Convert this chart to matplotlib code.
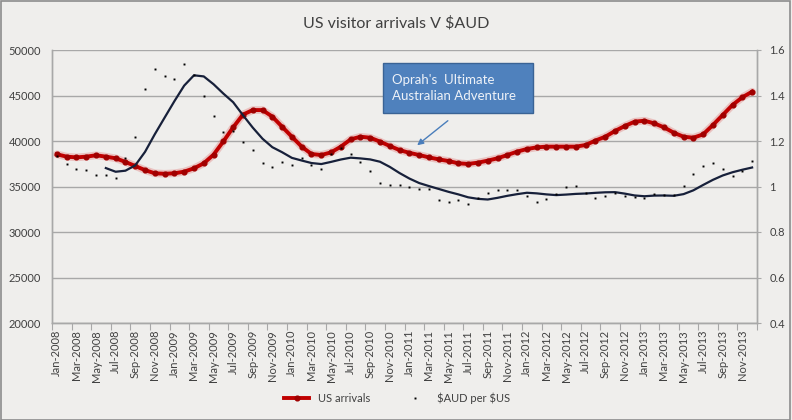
import matplotlib
matplotlib.use('Agg')
import matplotlib.pyplot as plt
import numpy as np
import pandas as pd
from matplotlib.patches import Rectangle, FancyArrowPatch
from matplotlib.ticker import FixedLocator, FuncFormatter

plt.rcParams['font.family'] = ['Lato', 'DejaVu Sans']

# ---------------- data ----------------
months = pd.date_range('2008-01-01', periods=72, freq='MS').strftime('%b-%Y').tolist()

us_arrivals = [
    38540, 38280, 38200, 38280, 38430, 38280, 38100, 37700, 37250, 36800, 36450, 36400,
    36450, 36630, 37000, 37550, 38500, 39950, 41500, 42900, 43400, 43400, 42680, 41570,
    40470, 39380, 38570, 38460, 38750, 39380, 40180, 40470, 40360, 39930, 39450, 39000,
    38700, 38460, 38200, 37980, 37800, 37550, 37480, 37620, 37840, 38100, 38460, 38830,
    39120, 39300, 39380, 39380, 39380, 39380, 39560, 40050, 40470, 41100, 41650, 42120,
    42230, 41940, 41500, 40910, 40470, 40360, 40730, 41760, 42860, 43960, 44800, 45420,
]

aud_per_usd = [
    1.136, 1.099, 1.078, 1.073, 1.050, 1.050, 1.039, 1.127, 1.218, 1.429, 1.516, 1.487,
    1.473, 1.538, 1.490, 1.399, 1.310, 1.241, 1.245, 1.197, 1.162, 1.105, 1.087, 1.108,
    1.096, 1.127, 1.096, 1.078, 1.144, 1.171, 1.144, 1.108, 1.069, 1.017, 1.008, 1.008,
    1.000, 0.989, 0.989, 0.941, 0.932, 0.941, 0.923, 0.948, 0.972, 0.985, 0.985, 0.985,
    0.960, 0.932, 0.945, 0.966, 0.999, 1.003, 0.970, 0.950, 0.959, 0.970, 0.960, 0.955,
    0.949, 0.967, 0.962, 0.962, 1.004, 1.055, 1.091, 1.102, 1.077, 1.047, 1.070, 1.114,
]

ma_window = 6  # moving-average trendline of the exchange rate

title = r'US visitor arrivals V \$AUD'
note = "Oprah's  Ultimate\nAustralian Adventure"
series_names = ['US arrivals', r'\$AUD per \$US']
left_ticks = [20000, 25000, 30000, 35000, 40000, 45000, 50000]
right_ticks = [0.4, 0.6, 0.8, 1.0, 1.2, 1.4, 1.6]

# ---------------- style ----------------
bg = '#EFEEEC'
grid_c = '#A8A8A8'
txt_c = '#404040'
red = '#C00000'
navy = '#17203A'

fig = plt.figure(figsize=(7.92, 4.20), dpi=100, facecolor=bg)
ax = fig.add_axes([52 / 792, 1 - 323 / 420, 705 / 792, 273 / 420])
ax.set_facecolor(bg)
ax2 = ax.twinx()

x = np.arange(len(months))

# primary: US arrivals
ax.plot(x, us_arrivals, color='#E07070', lw=5.5, alpha=0.35, solid_capstyle='round', zorder=2)
red_line, = ax.plot(x, us_arrivals, color=red, lw=2.8, marker='o', ms=3.4,
                    mfc='#A00000', mec='#A00000', zorder=3, label=series_names[0])

# secondary: exchange rate dots + moving average trendline
ma = pd.Series(aud_per_usd).rolling(ma_window).mean()
ax2.plot(x, ma, color=navy, lw=1.6, zorder=3)
dots, = ax2.plot(x, aud_per_usd, ls='none', marker='s', ms=1.4, color='black',
                 mew=0, zorder=4, label=series_names[1])

# axes ranges
ax.set_xlim(-0.5, len(months) - 0.5)
ax.set_ylim(20000, 50000)
ax2.set_ylim(0.4, 1.6)

# y ticks
ax.yaxis.set_major_locator(FixedLocator(left_ticks))
ax.yaxis.set_major_formatter(FuncFormatter(lambda v, p: f'{int(v)}'))
ax2.yaxis.set_major_locator(FixedLocator(right_ticks))
ax2.yaxis.set_major_formatter(FuncFormatter(lambda v, p: f'{v:g}'))
ax.tick_params(axis='y', length=0, labelsize=8, labelcolor=txt_c, pad=8)
ax2.tick_params(axis='y', length=3, color=grid_c, labelsize=8, labelcolor=txt_c, pad=6)

# x ticks: marks between categories every 2 months, labels on categories
ax.xaxis.set_major_locator(FixedLocator(np.arange(-0.5, len(months), 2)))
ax.xaxis.set_minor_locator(FixedLocator(x[::2]))
ax.set_xticklabels([], minor=False)
ax.set_xticklabels(months[::2], minor=True)
ax.tick_params(axis='x', which='major', length=5, color=grid_c, labelbottom=False)
ax.tick_params(axis='x', which='minor', length=0, labelsize=8, labelcolor=txt_c,
               labelrotation=90, pad=5)

ax.grid(axis='y', color=grid_c, lw=1)
ax.set_axisbelow(True)
for a in (ax, ax2):
    a.spines['top'].set_visible(False)
    for s in ('left', 'right', 'bottom'):
        a.spines[s].set_color(grid_c)
        a.spines[s].set_linewidth(1)

# title
fig.text(396 / 792, 1 - 23 / 420, title, ha='center', va='center', fontsize=11.5, color=txt_c)

# annotation box + arrow
fig.add_artist(Rectangle((383 / 792, 1 - 113 / 420), 150 / 792, 50 / 420,
                         transform=fig.transFigure, facecolor='#4F81BD',
                         edgecolor='#3A6395', lw=1, zorder=5))
fig.text(392 / 792, 1 - 88 / 420, note, ha='left', va='center', fontsize=9.5,
         color='#EEF2F8', linespacing=1.45, zorder=6)
fig.add_artist(FancyArrowPatch(
    (450 / 792, 1 - 119 / 420), (415 / 792, 1 - 147 / 420), transform=fig.transFigure,
    arrowstyle='-|>', mutation_scale=9, color='#4A7EBB', lw=1, zorder=6))

# legend
fig.legend(handles=[red_line, dots], loc='center', bbox_to_anchor=(397 / 792, 1 - 398 / 420),
           ncol=2, frameon=False, fontsize=8, labelcolor=txt_c, handlelength=2.2,
           columnspacing=3, markerscale=1.0)

# outer frame
fig.add_artist(Rectangle((0.001, 0.001), 0.997, 0.997, transform=fig.transFigure,
                         fill=False, edgecolor='#8C8C8C', lw=1.2))

fig.savefig('out.png', dpi=100, facecolor=bg)
